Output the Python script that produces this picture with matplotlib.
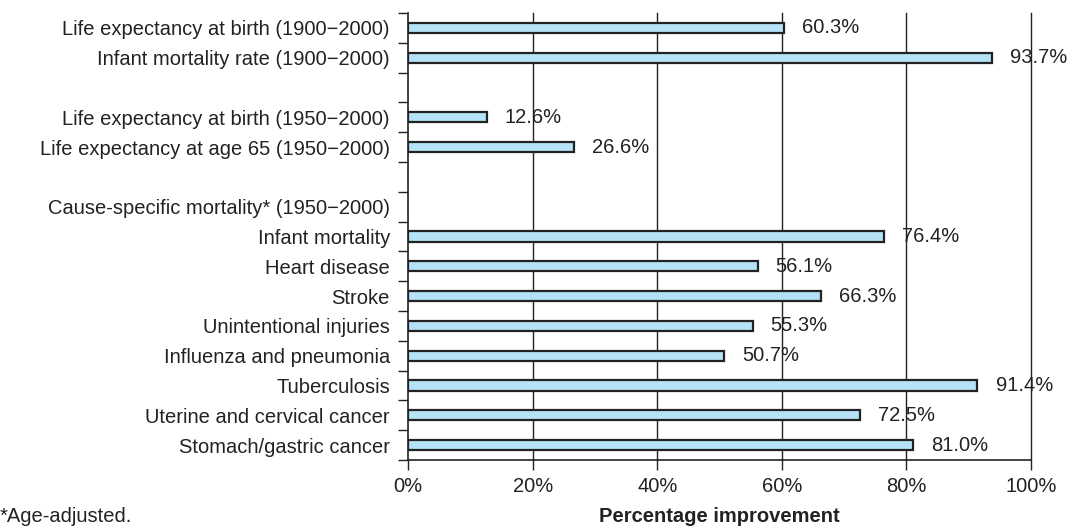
import numpy as np
import matplotlib
matplotlib.use('Agg')
import matplotlib.pyplot as plt

plt.rcParams['font.family'] = ['Liberation Sans', 'DejaVu Sans']

labels = [
    'Life expectancy at birth (1900\u22122000)',
    'Infant mortality rate (1900\u22122000)',
    '',
    'Life expectancy at birth (1950\u22122000)',
    'Life expectancy at age 65 (1950\u22122000)',
    '',
    'Cause-specific mortality* (1950\u22122000)',
    'Infant mortality',
    'Heart disease',
    'Stroke',
    'Unintentional injuries',
    'Influenza and pneumonia',
    'Tuberculosis',
    'Uterine and cervical cancer',
    'Stomach/gastric cancer',
]
values = [60.3, 93.7, None, 12.6, 26.6, None, None,
          76.4, 56.1, 66.3, 55.3, 50.7, 91.4, 72.5, 81.0]
xticks = [0, 20, 40, 60, 80, 100]

FS = 14.5
INK = '#222222'

fig = plt.figure(figsize=(10.71, 5.30), dpi=100)
ax = fig.add_axes([0.381, 0.132, 0.5817, 0.8435])

y = np.arange(len(labels))
for i, v in enumerate(values):
    if v is None:
        continue
    ax.barh(i, v, height=0.34, color='#b5e2f7', edgecolor=INK,
            linewidth=1.6, zorder=3)
    ax.annotate('%.1f%%' % v, (v, i), xytext=(13, 0), textcoords='offset points',
                va='center', ha='left', fontsize=FS, color=INK, zorder=1)

for t in xticks[1:]:
    ax.axvline(t, color=INK, linewidth=1.0, zorder=2, clip_on=False)

ax.set_xlim(0, 100)
ax.set_ylim(len(labels) - 0.5, -0.5)

ax.set_yticks(y)
ax.set_yticklabels(labels, fontsize=FS, color=INK)
ax.tick_params(axis='y', which='major', length=0, pad=13)
ax.set_yticks(np.arange(-0.5, len(labels), 1.0), minor=True)
ax.tick_params(axis='y', which='minor', length=7, width=1.0, color=INK)

ax.set_xticks(xticks)
ax.set_xticklabels(['%d%%' % t for t in xticks], fontsize=FS, color=INK)
ax.tick_params(axis='x', length=7, width=1.0, color=INK, pad=5)

for s in ['top', 'right']:
    ax.spines[s].set_visible(False)
for s in ['left', 'bottom']:
    ax.spines[s].set_linewidth(1.2)
    ax.spines[s].set_color(INK)

fig.text(0.381 + 0.5817 / 2, 0.025, 'Percentage improvement', fontsize=FS,
         fontweight='bold', color=INK, ha='center', va='center')
fig.text(0.0, 0.025, '*Age-adjusted.', fontsize=FS, color=INK,
         ha='left', va='center')

fig.savefig('out.png', dpi=100)
